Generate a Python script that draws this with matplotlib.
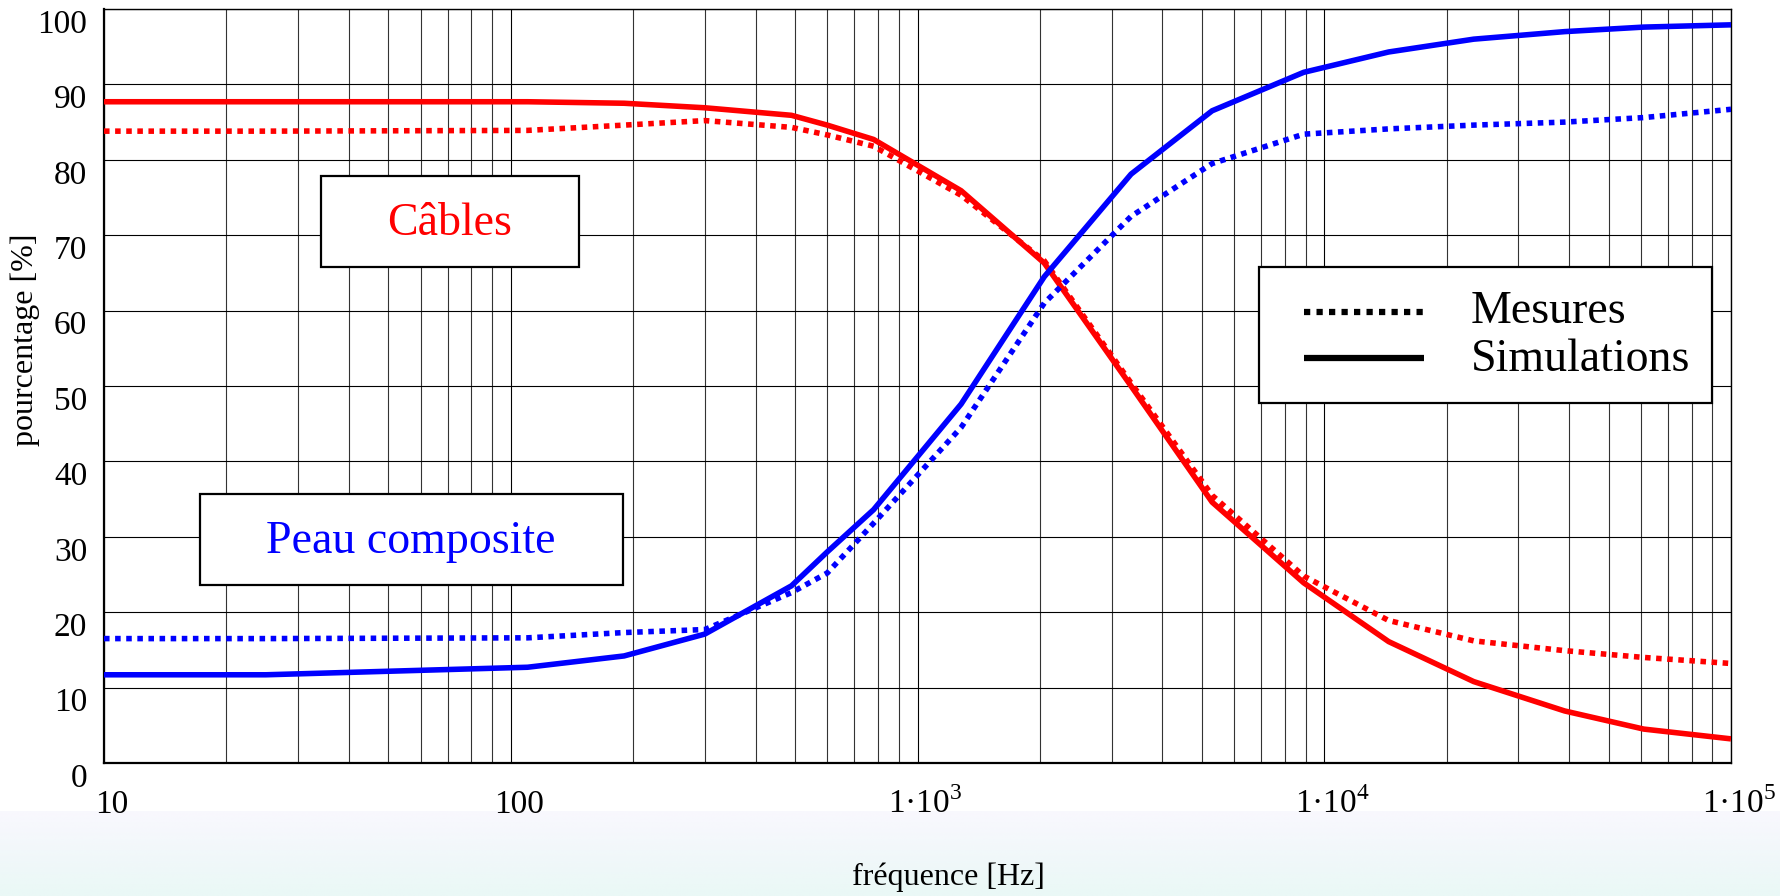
import numpy as np
import matplotlib
matplotlib.use("Agg")
import matplotlib.pyplot as plt
from matplotlib.patches import Rectangle
from matplotlib.lines import Line2D
from matplotlib.transforms import ScaledTranslation

plt.rcParams['font.family'] = ['Liberation Serif', 'DejaVu Serif']
plt.rcParams['mathtext.fontset'] = 'custom'
plt.rcParams['mathtext.rm'] = 'Liberation Serif'

# data
freq = [10, 25, 110, 190, 300, 490, 600, 780, 1280, 2050, 3350, 5300, 8900,
        14400, 23300, 39000, 61000, 100000]
cables_sim = [87.7, 87.7, 87.7, 87.5, 86.9, 85.9, 84.6, 82.7, 75.9, 66.3, 50.0,
              34.6, 23.9, 16.1, 10.8, 6.9, 4.5, 3.2]
cables_mes = [83.8, 83.8, 83.9, 84.6, 85.2, 84.3, 83.3, 81.8, 75.3, 66.6, 50.4,
              35.5, 24.8, 18.9, 16.2, 14.9, 14.0, 13.2]
peau_sim = [11.7, 11.7, 12.7, 14.2, 17.1, 23.5, 28.0, 33.6, 47.6, 64.5, 78.1,
            86.5, 91.6, 94.3, 96.0, 97.0, 97.6, 97.9]
peau_mes = [16.5, 16.5, 16.6, 17.3, 17.7, 22.6, 25.2, 31.8, 44.5, 61.0, 72.5,
            79.5, 83.4, 84.1, 84.6, 85.0, 85.6, 86.7]

xticks = [10, 100, 1e3, 1e4, 1e5]
xticklabels = ['10', '100', '1·10$^{3}$', '1·10$^{4}$', '1·10$^{5}$']
yticks = list(range(0, 101, 10))

W, H = 1780, 896


def fx(px):
    return px / W


def fy(py):
    return 1 - py / H


fig = plt.figure(figsize=(17.8, 8.96), dpi=100)

# light gradient band at the bottom
bg = fig.add_axes([0, 0, 1, 85 / H], zorder=-5)
grad = np.linspace(0, 1, 50)[:, None]
top_c = np.array([249, 248, 254]) / 255
bot_c = np.array([234, 248, 246]) / 255
img = top_c[None, None, :] * (1 - grad[:, :, None]) + bot_c[None, None, :] * grad[:, :, None]
bg.imshow(np.repeat(img, 10, axis=1), aspect='auto', extent=[0, 1, 0, 1])
bg.axis('off')

ax = fig.add_axes([fx(104), fy(763), (1731 - 104) / W, (763 - 9) / H])

dot = (0, (1, 1))
lw = 4.0
ax.plot(freq, cables_sim, color='#ff0000', lw=lw, solid_capstyle='butt', zorder=4)
ax.plot(freq, cables_mes, color='#ff0000', lw=lw, ls=dot, dash_capstyle='butt', zorder=4)
ax.plot(freq, peau_sim, color='#0000ff', lw=lw, solid_capstyle='butt', zorder=4)
ax.plot(freq, peau_mes, color='#0000ff', lw=lw, ls=dot, dash_capstyle='butt', zorder=4)

ax.set_xscale('log')
ax.set_xlim(10, 1e5)
ax.set_ylim(0, 100)
ax.set_xticks(xticks)
ax.set_xticklabels(xticklabels)
ax.set_yticks(yticks)
ax.set_yticklabels([str(v) for v in yticks])
ax.xaxis.set_minor_locator(matplotlib.ticker.LogLocator(base=10, subs=np.arange(2, 10)))
ax.xaxis.set_minor_formatter(matplotlib.ticker.NullFormatter())
ax.grid(True, which='major', color='black', lw=0.8)
ax.grid(True, which='minor', axis='x', color='#333333', lw=0.8)
ax.set_axisbelow(True)
ax.tick_params(which='both', length=0, labelsize=24)
ax.tick_params(axis='y', pad=12)
ax.tick_params(axis='x', pad=36)

for t in ax.xaxis.get_major_ticks():
    t.label1.set_va('baseline')
    t.label1.set_transform(t.label1.get_transform() + ScaledTranslation(0.08, 0, fig.dpi_scale_trans))
for t in ax.yaxis.get_major_ticks():
    t.label1.set_transform(t.label1.get_transform() + ScaledTranslation(0, -0.12, fig.dpi_scale_trans))

for side in ['left', 'bottom']:
    ax.spines[side].set_linewidth(1.6)
for side in ['top', 'right']:
    ax.spines[side].set_linewidth(1.0)

fig.text(fx(948), fy(877), 'fréquence [Hz]', fontsize=23, ha='center', va='center')
fig.text(fx(25), fy(340), 'pourcentage [%]', fontsize=23, ha='center', va='center', rotation=90)

# annotation boxes
def box(x0, y0, x1, y1):
    fig.add_artist(Rectangle((fx(x0), fy(y1)), (x1 - x0) / W, (y1 - y0) / H,
                             transform=fig.transFigure, facecolor='white',
                             edgecolor='black', lw=1.6, zorder=5))

box(321, 176, 579, 267)
fig.text(fx(450), fy(224), 'Câbles', color='#ff0000', fontsize=33, ha='center', va='center', zorder=6)
box(200, 494, 623, 585)
fig.text(fx(411), fy(542), 'Peau composite', color='#0000ff', fontsize=33, ha='center', va='center', zorder=6)

# legend
box(1259, 267, 1712, 403)
fig.add_artist(Line2D([fx(1304), fx(1424)], [fy(312), fy(312)], transform=fig.transFigure,
                      color='black', lw=4.5, ls=dot, dash_capstyle='butt', zorder=6))
fig.add_artist(Line2D([fx(1304), fx(1424)], [fy(358), fy(358)], transform=fig.transFigure,
                      color='black', lw=4.5, solid_capstyle='butt', zorder=6))
fig.text(fx(1471), fy(312), 'Mesures', fontsize=33, ha='left', va='center', zorder=6)
fig.text(fx(1471), fy(360), 'Simulations', fontsize=33, ha='left', va='center', zorder=6)

fig.savefig('out.png', dpi=100)
